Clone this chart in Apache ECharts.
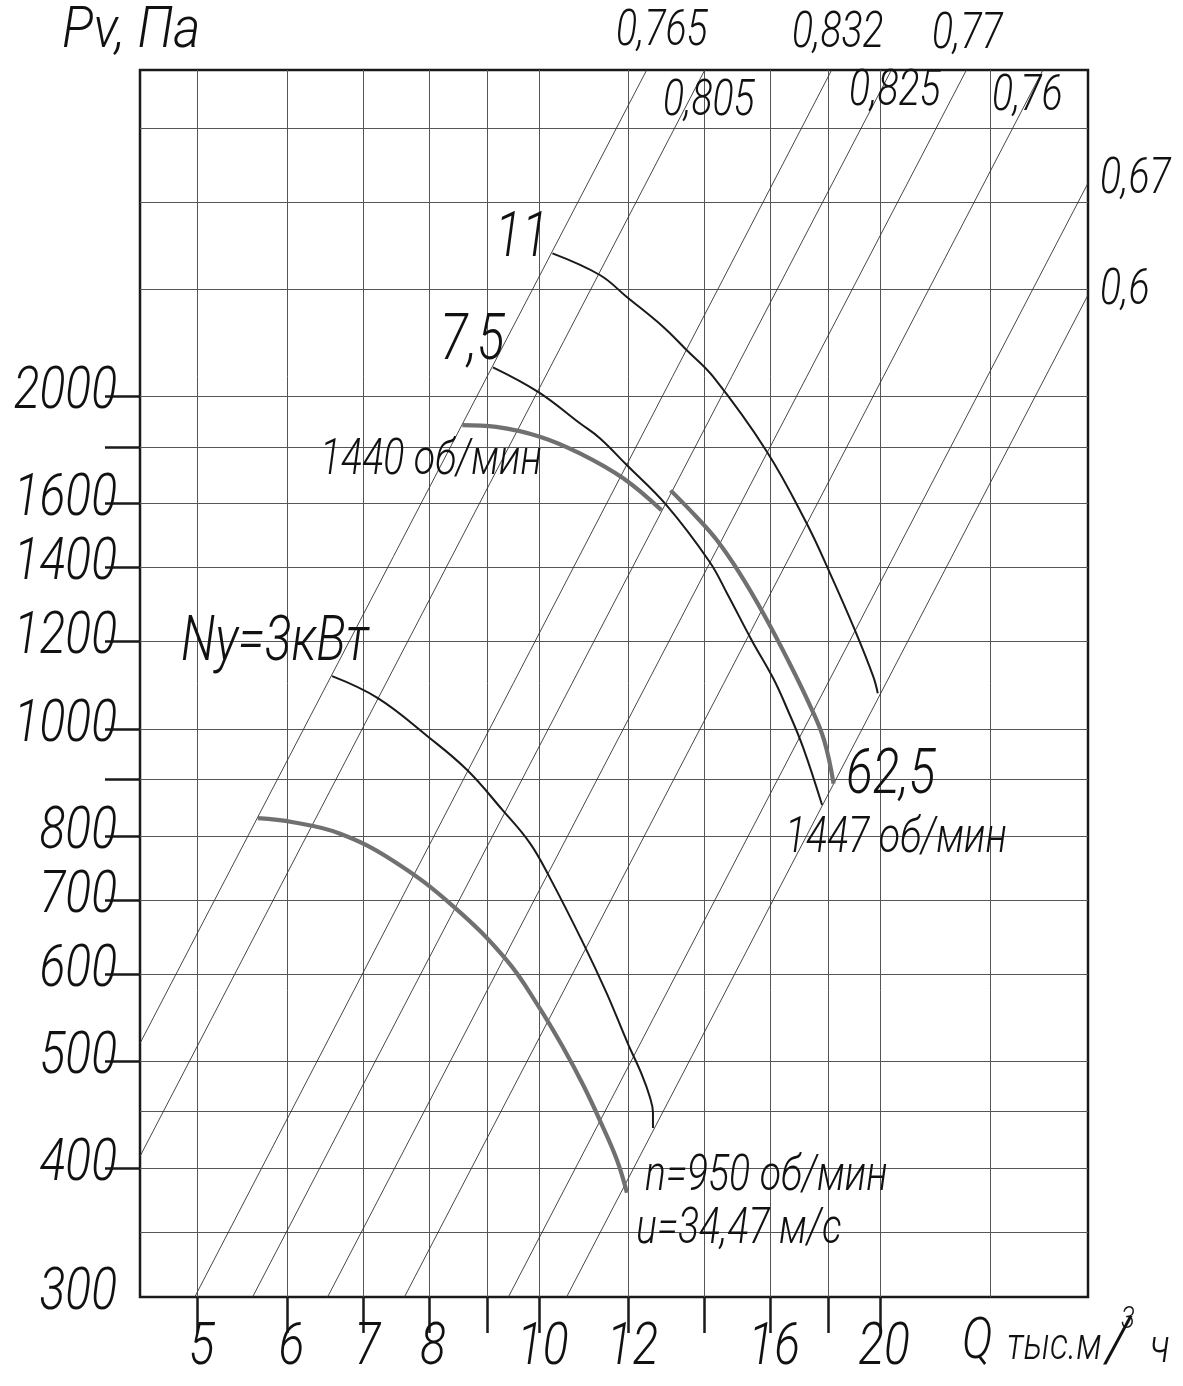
<!DOCTYPE html>
<html><head><meta charset="utf-8">
<script src="https://cdn.jsdelivr.net/npm/echarts@6/dist/echarts.min.js"></script>
<style>html,body{margin:0;padding:0;background:#fff}#c{width:1183px;height:1386px}</style>
</head><body><div id="c"></div>
<script>
// ---- axis extents (Q, thousand m3/h ; Pv, Pa), log scales ----
const Q_MIN = 4.447, Q_MAX = 30.52;
const P_MIN = 305.8, P_MAX = 3950;

// ---- ticks / labels / grid ----
const xTickValues = [5, 6, 7, 8, 9, 10, 12, 14, 16, 18, 20];
const xTickLabels = [5, 6, 7, 8, 10, 12, 16, 20];
const xGridValues = [5, 6, 7, 8, 9, 10, 12, 14, 16, 18, 20, 25];
const yTickValues = [400, 500, 600, 700, 800, 900, 1000, 1200, 1400, 1600, 1800, 2000];
const yTickLabels = [300, 400, 500, 600, 700, 800, 1000, 1200, 1400, 1600, 2000];
const yGridValues = [350, 400, 450, 500, 600, 700, 800, 900, 1000, 1200, 1400, 1600, 1800, 2000, 2500, 3000, 3500];

// ---- pressure curve n=950 rpm ----
const q950 = [5.65, 6.07, 6.67, 7.43, 8.40, 9.37, 10.00, 10.50, 10.94, 11.32, 11.72, 11.96];
const p950 = [830, 823, 804, 760, 691, 617, 560, 515, 476, 442, 407, 380];
// ---- power line Ny = 3 kW ----
const qNy3 = [6.57, 7.21, 7.99, 8.64, 9.29, 9.82, 10.22, 10.94, 11.48, 11.98, 12.33, 12.53, 12.61, 12.61];
const pNy3 = [1116, 1066, 983, 918, 844, 788, 734, 640, 576, 519, 486, 464, 449, 435];
// ---- pressure curve 1440 rpm ----
const q1440 = [8.56, 9.17, 10.02, 10.87, 11.87, 12.83];
const p1440 = [1884, 1877, 1839, 1776, 1686, 1577];
// ---- pressure curve 1447 rpm ----
const q1447 = [13.07, 13.77, 14.35, 15.04, 15.78, 16.59, 17.37, 17.85, 18.20];
const p1447 = [1644, 1556, 1483, 1383, 1272, 1154, 1047, 977, 892];
// ---- power line 7,5 kW ----
const q75 = [9.11, 10.0, 10.87, 11.32, 11.95, 12.96, 14.15, 14.66, 15.41, 16.10, 16.58, 17.10, 17.78];
const p75 = [2125, 2017, 1891, 1833, 1734, 1594, 1416, 1326, 1203, 1111, 1040, 963, 853];
// ---- power line 11 kW ----
const q11 = [10.28, 11.32, 11.95, 12.87, 13.50, 14.25, 15.88, 17.23, 18.07, 19.01, 19.73, 19.91];
const p11 = [2695, 2576, 2462, 2313, 2203, 2084, 1785, 1535, 1383, 1228, 1115, 1077];

// ---- efficiency rays (end points read where they meet the frame) ----
const effLabels = ['0,765', '0,805', '0,832', '0,825', '0,77', '0,76', '0,67', '0,6'];
const effQ0 = [4.447, 4.447, 4.97, 5.59, 6.51, 7.61, 9.40, 10.58];
const effP0 = [519, 410, 305.8, 305.8, 305.8, 305.8, 305.8, 305.8];
const effQ1 = [12.45, 14.01, 18.13, 20.47, 23.84, 27.85, 30.52, 30.52];
const effP1 = [3950, 3950, 3950, 3950, 3950, 3950, 3120, 2471];

const L = Math.log10;
const FONT = 'Roboto, "Liberation Sans", sans-serif';
const INK = '#111';
const SX = 0.8;

function pts(qs, ps) { return qs.map((q, i) => [L(q), L(ps[i])]); }

const series = [];
effLabels.forEach((name, i) => {
  series.push({
    type: 'line', name: 'eff ' + name, silent: true, symbol: 'none', clip: true, z: 2,
    data: [[L(effQ0[i]), L(effP0[i])], [L(effQ1[i]), L(effP1[i])]],
    lineStyle: { color: '#333', width: 0.9 }
  });
});
function curve(name, qs, ps, color, width) {
  series.push({
    type: 'line', name, silent: true, symbol: 'none', smooth: 0.4, z: 3,
    data: pts(qs, ps), lineStyle: { color, width, cap: 'butt' }
  });
}
curve('950', q950, p950, '#707070', 4.2);
curve('Ny3', qNy3, pNy3, '#1a1a1a', 2);
curve('1440', q1440, p1440, '#707070', 4.2);
curve('1447', q1447, p1447, '#707070', 4.2);
curve('7,5', q75, p75, '#1a1a1a', 2);
curve('11', q11, p11, '#1a1a1a', 2);

function txt(text, x, y, size, align, sx) {
  align = align || 'left';
  return {
    type: 'text', x, y, scaleX: sx || SX, silent: true, z: 10,
    style: {
      text, fill: INK, fontSize: size, fontFamily: FONT, fontStyle: 'italic', fontWeight: 300,
      align, verticalAlign: 'middle', textAlign: align, textVerticalAlign: 'middle'
    }
  };
}

const chart = echarts.init(document.getElementById('c'), null, { renderer: 'canvas' });
chart.setOption({
  animation: false,
  backgroundColor: '#fff',
  grid: { left: 140, right: 95, top: 70, bottom: 89, show: true, borderColor: '#1a1a1a', borderWidth: 2.5,
          containLabel: false, outerBoundsMode: 'none' },
  xAxis: [
    {
      type: 'value', min: L(Q_MIN), max: L(Q_MAX), position: 'bottom',
      axisLine: { show: false }, splitLine: { show: false }, axisLabel: { show: false },
      axisTick: { show: true, customValues: xTickValues.map(L), length: 36, lineStyle: { color: '#1a1a1a', width: 2.5 } }
    },
    {
      type: 'value', min: L(Q_MIN), max: L(Q_MAX), position: 'top',
      axisLine: { show: false }, axisLabel: { show: false },
      axisTick: { show: false, customValues: xGridValues.map(L) },
      splitLine: { show: true, lineStyle: { color: '#555', width: 1 } }
    }
  ],
  yAxis: [
    {
      type: 'value', min: L(P_MIN), max: L(P_MAX), position: 'left',
      axisLine: { show: false }, splitLine: { show: false }, axisLabel: { show: false },
      axisTick: { show: true, customValues: yTickValues.map(L), length: 35, lineStyle: { color: '#1a1a1a', width: 2.5 } }
    },
    {
      type: 'value', min: L(P_MIN), max: L(P_MAX), position: 'right',
      axisLine: { show: false }, axisLabel: { show: false },
      axisTick: { show: false, customValues: yGridValues.map(L) },
      splitLine: { show: true, lineStyle: { color: '#555', width: 1 } }
    }
  ],
  series
});

// tick labels placed through the axis scales
const graphics = [];
xTickLabels.forEach(v => {
  const px = chart.convertToPixel({ xAxisIndex: 0 }, L(v));
  graphics.push(txt(String(v), px + 4, 1349, 60, 'center'));
});
yTickLabels.forEach(v => {
  const py = chart.convertToPixel({ yAxisIndex: 0 }, Math.max(L(v), L(P_MIN)));
  graphics.push(txt(String(v), 117, py - 3, 60, 'right'));
});

const effLabelPos = [[616, 33], [663, 103], [792, 35], [849, 93], [932, 36], [992, 98], [1100, 181], [1100, 292]];
effLabels.forEach((t, i) => graphics.push(txt(t, effLabelPos[i][0], effLabelPos[i][1], 49)));
graphics.push(
  txt('Pv, Па', 62, 32, 58, 'left', 0.9),
  txt('11', 495, 240, 62),
  txt('7,5', 440, 343, 64),
  txt('Ny=3кВт', 181, 644, 62),
  txt('1440 об/мин', 320, 462, 49),
  txt('62,5', 846, 777, 62),
  txt('1447 об/мин', 785, 840, 49),
  txt('n=950 об/мин', 645, 1178, 49),
  txt('u=34,47 м/с', 636, 1231, 49),
  txt('Q', 962, 1343, 58),
  txt('тыс.м', 1007, 1348, 45),
  txt('3', 1121, 1320, 32),
  txt('/', 1106, 1345, 62, 'left', 1.0),
  txt('ч', 1150, 1350, 48)
);
chart.setOption({ graphic: graphics });
</script>
</body></html>
